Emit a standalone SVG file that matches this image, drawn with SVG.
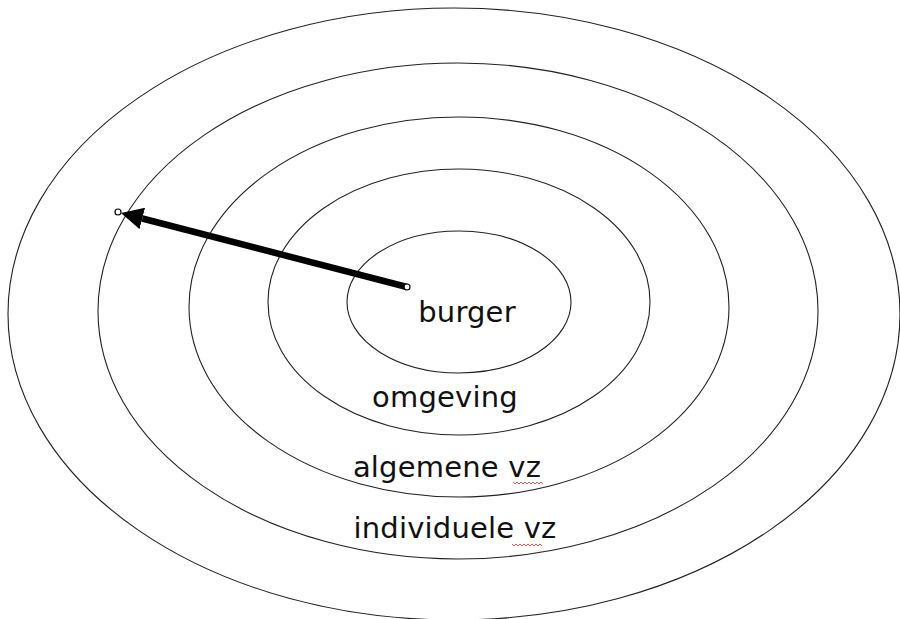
<svg xmlns="http://www.w3.org/2000/svg" width="900" height="619" viewBox="0 0 900 619">
<style>
.ring{fill:none;stroke:#222;stroke-width:1.1}
.lbl{font-family:"DejaVu Sans",Verdana,sans-serif;font-size:29px;fill:#111;text-anchor:middle}
.sq{fill:none;stroke:#d03030;stroke-width:0.8}
</style>
<defs>
<marker id="ah" viewBox="0 0 22 22" refX="0" refY="11" markerWidth="22" markerHeight="22" markerUnits="userSpaceOnUse" orient="auto">
<path d="M0,0 L22,11 L0,22 z" fill="#000"/>
</marker>
</defs>
<rect width="900" height="619" fill="#fff"/>
<g id="ring-outer"><ellipse class="ring" cx="454" cy="314" rx="446" ry="306"/></g>
<g id="ring-individuele"><ellipse class="ring" cx="458" cy="311" rx="360" ry="248"/><text class="lbl" x="455" y="538" letter-spacing="0.2">individuele vz</text><path class="sq" d="M512,544 l2,2 l2,-2 l2,2 l2,-2 l2,2 l2,-2 l2,2 l2,-2 l2,2 l2,-2 l2,2 l2,-2 l2,2 l2,-2 l2,2"/></g>
<g id="ring-algemene"><ellipse class="ring" cx="459" cy="307" rx="270" ry="190"/><text class="lbl" x="447" y="477" letter-spacing="0.2">algemene vz</text><path class="sq" d="M513,482 l2,2 l2,-2 l2,2 l2,-2 l2,2 l2,-2 l2,2 l2,-2 l2,2 l2,-2 l2,2 l2,-2 l2,2 l2,-2 l2,2"/></g>
<g id="ring-omgeving"><ellipse class="ring" cx="459" cy="302" rx="191" ry="133"/><text class="lbl" x="445" y="407" letter-spacing="0.2">omgeving</text></g>
<g id="ring-burger"><ellipse class="ring" cx="459" cy="302" rx="112" ry="71"/><text class="lbl" x="467" y="322" letter-spacing="0.2">burger</text></g>
<g id="connectors">
<line x1="407" y1="287" x2="142.3" y2="218.5" stroke="#000" stroke-width="6.5" marker-end="url(#ah)"/>
<circle cx="407" cy="287" r="3" fill="#fff" stroke="#000" stroke-width="1.2"/>
<circle cx="118" cy="212" r="3" fill="#fff" stroke="#000" stroke-width="1.2"/>
</g>
</svg>
